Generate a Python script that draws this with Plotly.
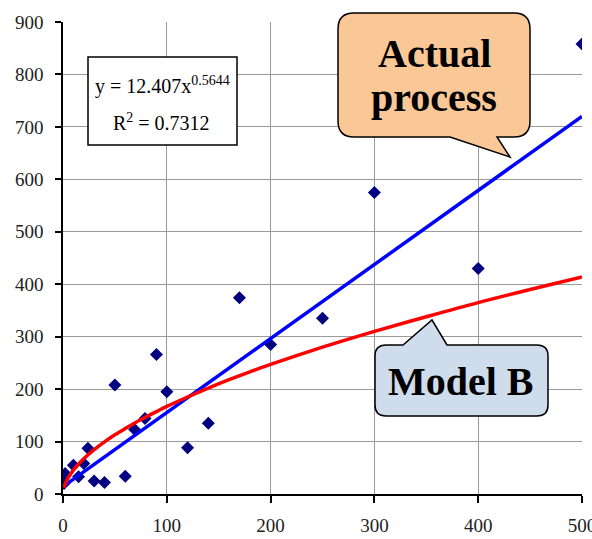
import plotly.graph_objects as go

# Observed data points
obs_x = [1, 2, 10, 15, 20, 24, 30, 40, 50, 60, 69, 79, 90, 100, 120, 140, 170, 200, 250, 300, 400, 500]
obs_y = [20, 39, 55, 33, 58, 87, 25, 22, 208, 34, 123, 144, 266, 195, 88, 135, 374, 285, 335, 575, 430, 858]

# "Actual process" line (blue)
actual_x = [0, 500]
actual_y = [14, 720]

# "Model B" power trendline (red)
model_x = [1, 3, 5, 10, 15, 20, 30, 40, 50, 60, 70, 80, 90, 100, 120, 140, 160, 180, 200,
           225, 250, 275, 300, 350, 400, 450, 500]
model_y = [12.4, 23.1, 30.8, 45.5, 57.2, 67.3, 84.6, 99.5, 112.9, 125, 136.5, 147, 157, 167,
           185, 202, 218, 233, 247, 263.8, 280, 295.4, 310, 338, 365, 390, 414]

x_ticks = [0, 100, 200, 300, 400, 500]
y_ticks = [0, 100, 200, 300, 400, 500, 600, 700, 800, 900]

W, H = 592, 539
ML, MR, MT, MB = 63, 10, 22, 45
PW, PH = W - ML - MR, H - MT - MB


def px(x):
    return (x - ML) / PW


def py(y):
    return (H - MB - y) / PH


def callout_path(L, T, R, B, r, tail_side, b1, b2, tip):
    P = lambda x, y: f"{px(x):.5f},{py(y):.5f}"
    s = f"M {P(L + r, T)} "
    if tail_side == "top":
        s += f"L {P(b1, T)} L {P(*tip)} L {P(b2, T)} "
    s += f"L {P(R - r, T)} Q {P(R, T)} {P(R, T + r)} "
    s += f"L {P(R, B - r)} Q {P(R, B)} {P(R - r, B)} "
    if tail_side == "bottom":
        s += f"L {P(b2, B)} L {P(*tip)} L {P(b1, B)} "
    s += f"L {P(L + r, B)} Q {P(L, B)} {P(L, B - r)} "
    s += f"L {P(L, T + r)} Q {P(L, T)} {P(L + r, T)} Z"
    return s


fig = go.Figure()
fig.add_trace(go.Scatter(x=obs_x, y=obs_y, mode="markers",
                         marker=dict(symbol="diamond", size=10, color="#000080"),
                         showlegend=False))
fig.add_trace(go.Scatter(x=actual_x, y=actual_y, mode="lines",
                         line=dict(color="#0000FF", width=3.5), showlegend=False))
fig.add_trace(go.Scatter(x=model_x, y=model_y, mode="lines",
                         line=dict(color="#FF0000", width=3.5, shape="spline"), showlegend=False))

serif = "Liberation Serif"

shapes = [
    dict(type="rect", xref="paper", yref="paper", x0=px(88), x1=px(237), y0=py(145), y1=py(57),
         line=dict(color="black", width=1.5), fillcolor="white", layer="above"),
    dict(type="path", xref="paper", yref="paper",
         path=callout_path(338, 13, 530, 137, 16, "bottom", 450, 497, (510, 157)),
         line=dict(color="black", width=1.5), fillcolor="#FAC896", layer="above"),
    dict(type="path", xref="paper", yref="paper",
         path=callout_path(375, 345, 548, 416, 11, "top", 403, 447, (432, 320)),
         line=dict(color="black", width=1.5), fillcolor="#CEDCEB", layer="above"),
]

annotations = [
    dict(xref="paper", yref="paper", x=px(162), y=py(86), text="y = 12.407x<sup>0.5644</sup>",
         showarrow=False, font=dict(family=serif, size=20, color="black"),
         xanchor="center", yanchor="middle"),
    dict(xref="paper", yref="paper", x=px(161), y=py(122), text="R<sup>2</sup> = 0.7312",
         showarrow=False, font=dict(family=serif, size=20, color="black"),
         xanchor="center", yanchor="middle"),
    dict(xref="paper", yref="paper", x=px(434), y=py(53), text="<b>Actual</b>",
         showarrow=False, font=dict(family=serif, size=40, color="black"),
         xanchor="center", yanchor="middle"),
    dict(xref="paper", yref="paper", x=px(434), y=py(97), text="<b>process</b>",
         showarrow=False, font=dict(family=serif, size=40, color="black"),
         xanchor="center", yanchor="middle"),
    dict(xref="paper", yref="paper", x=px(461), y=py(381), text="<b>Model B</b>",
         showarrow=False, font=dict(family=serif, size=40, color="black"),
         xanchor="center", yanchor="middle"),
]

fig.update_layout(
    width=W, height=H,
    margin=dict(l=ML, r=MR, t=MT, b=MB, autoexpand=False),
    paper_bgcolor="white", plot_bgcolor="white",
    font=dict(family=serif, size=18, color="black"),
    shapes=shapes, annotations=annotations,
)
fig.update_xaxes(range=[0, 500], tickvals=x_ticks, ticktext=[str(v) for v in x_ticks],
                 showgrid=True, gridcolor="#9a9a9a", gridwidth=1,
                 showline=True, linecolor="black", linewidth=1.5,
                 ticks="outside", ticklen=7, tickcolor="black", tickwidth=1.5,
                 ticklabelstandoff=6, ticklabeloverflow="allow",
                 zeroline=False, automargin=False,
                 tickfont=dict(family=serif, size=19, color="#222"))
fig.update_yaxes(range=[0, 900], tickvals=y_ticks, ticktext=[str(v) for v in y_ticks],
                 showgrid=True, gridcolor="#9a9a9a", gridwidth=1,
                 showline=True, linecolor="black", linewidth=1.5,
                 ticks="outside", ticklen=6, tickcolor="black", tickwidth=1.5,
                 ticklabelstandoff=8, zeroline=False, automargin=False,
                 tickfont=dict(family=serif, size=19, color="#222"))

fig.write_html("out.html")
